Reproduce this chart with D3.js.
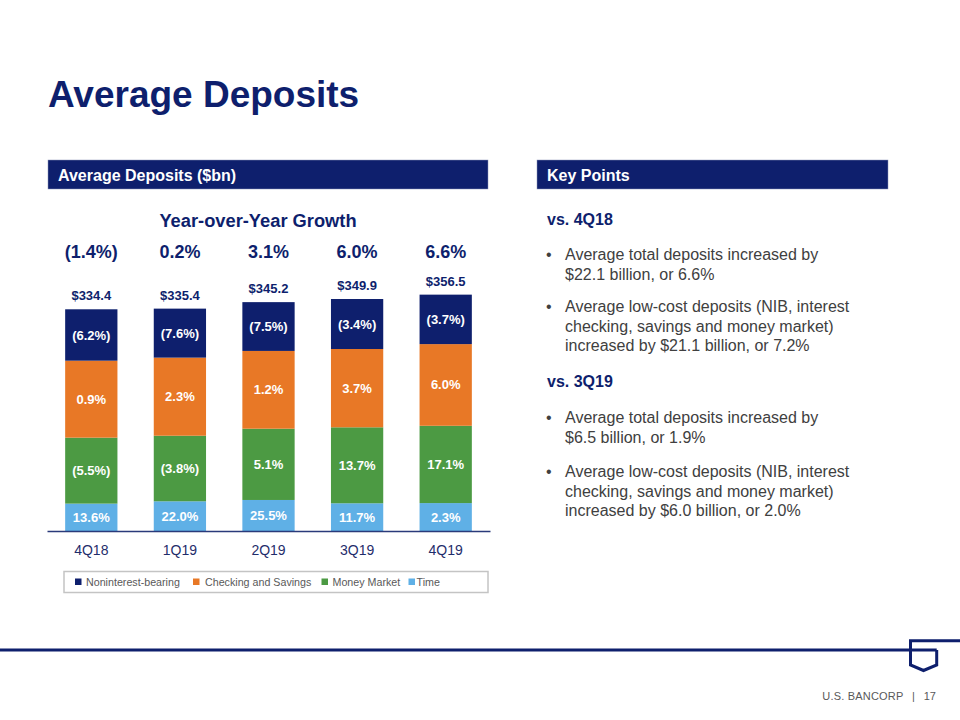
<!DOCTYPE html>
<html>
<head>
<meta charset="utf-8">
<script src="https://cdn.jsdelivr.net/npm/d3@7"></script>
<style>
  body { margin: 0; background: #fff; }
  svg { display: block; font-family: "Liberation Sans", Arial, sans-serif; }
</style>
</head>
<body>
<svg id="slide" width="960" height="720"></svg>
<script>
// datos (miles de millones)
const quarters = ["4Q18", "1Q19", "2Q19", "3Q19", "4Q19"];
const nonInterest = [77.5, 73.9, 73.6, 75.4, 74.6];
const checkingSavings = [116.1, 117.8, 117.3, 118.1, 123.2];
const moneyMarket = [99.5, 98.9, 107.5, 114.6, 116.6];
const timeDeposits = [41.3, 44.8, 46.8, 41.8, 42.1];
const totalLabels = ["$334.4", "$335.4", "$345.2", "$349.9", "$356.5"];
const yoyGrowth = ["(1.4%)", "0.2%", "3.1%", "6.0%", "6.6%"];
const nonInterestGrowth = ["(6.2%)", "(7.6%)", "(7.5%)", "(3.4%)", "(3.7%)"];
const checkingGrowth = ["0.9%", "2.3%", "1.2%", "3.7%", "6.0%"];
const moneyMarketGrowth = ["(5.5%)", "(3.8%)", "5.1%", "13.7%", "17.1%"];
const timeGrowth = ["13.6%", "22.0%", "25.5%", "11.7%", "2.3%"];
const seriesNames = ["Noninterest-bearing", "Checking and Savings", "Money Market", "Time"];

const navy = "#0e1f6d";
const colors = { time: "#5fb0e6", mm: "#4c9a43", cs: "#e87826", nib: "#0e1f6d" };

const svg = d3.select("#slide");

// titulo
svg.append("text").attr("x", 48).attr("y", 107)
  .attr("font-size", 37).attr("font-weight", "bold").attr("fill", navy)
  .text("Average Deposits");

// barras de encabezado
function header(x, w, label) {
  svg.append("rect").attr("x", x).attr("y", 160).attr("width", w).attr("height", 29)
    .attr("fill", navy).attr("stroke", "#8a93b8").attr("stroke-width", 0.5);
  svg.append("text").attr("x", x + 10).attr("y", 181)
    .attr("font-size", 16).attr("font-weight", "bold").attr("fill", "#fff")
    .text(label);
}
header(48, 440, "Average Deposits ($bn)");
header(537, 351, "Key Points");

// grafico apilado
const rows = quarters.map((q, i) => ({
  q: q,
  time: timeDeposits[i],
  mm: moneyMarket[i],
  cs: checkingSavings[i],
  nib: nonInterest[i]
}));
const keys = ["time", "mm", "cs", "nib"];
const labelsByKey = { time: timeGrowth, mm: moneyMarketGrowth, cs: checkingGrowth, nib: nonInterestGrowth };
const stacked = d3.stack().keys(keys)(rows);

const x = d3.scaleBand().domain(quarters).range([47, 490])
  .paddingInner(0.41).paddingOuter(0.205);
const y = d3.scaleLinear().domain([0, 400]).range([531, 531 - 265.2]);

const layers = svg.selectAll("g.layer")
  .data(stacked)
  .enter().append("g")
  .attr("class", "layer")
  .attr("fill", d => colors[d.key]);

layers.selectAll("rect")
  .data(d => d)
  .enter().append("rect")
  .attr("x", d => x(d.data.q))
  .attr("y", d => y(d[1]))
  .attr("width", x.bandwidth())
  .attr("height", d => y(d[0]) - y(d[1]));

layers.each(function (layer) {
  d3.select(this).selectAll("text")
    .data(layer)
    .enter().append("text")
    .attr("x", d => x(d.data.q) + x.bandwidth() / 2)
    .attr("y", d => (y(d[0]) + y(d[1])) / 2)
    .attr("dy", "0.35em")
    .attr("text-anchor", "middle")
    .attr("font-size", 13).attr("font-weight", "bold").attr("fill", "#fff")
    .text((d, i) => labelsByKey[layer.key][i]);
});

const topLayer = stacked[stacked.length - 1];
svg.selectAll("text.total")
  .data(topLayer)
  .enter().append("text")
  .attr("class", "total")
  .attr("x", d => x(d.data.q) + x.bandwidth() / 2)
  .attr("y", d => y(d[1]) - 9)
  .attr("text-anchor", "middle")
  .attr("font-size", 13).attr("font-weight", "bold").attr("fill", navy)
  .text((d, i) => totalLabels[i]);

// crecimiento interanual
svg.append("text").attr("x", 258).attr("y", 227)
  .attr("text-anchor", "middle")
  .attr("font-size", 18.3).attr("font-weight", "bold").attr("fill", navy)
  .text("Year-over-Year Growth");

svg.selectAll("text.yoy")
  .data(quarters)
  .enter().append("text")
  .attr("class", "yoy")
  .attr("x", d => x(d) + x.bandwidth() / 2)
  .attr("y", 258)
  .attr("text-anchor", "middle")
  .attr("font-size", 18).attr("font-weight", "bold").attr("fill", navy)
  .text((d, i) => yoyGrowth[i]);

// eje x
const axis = svg.append("g")
  .attr("transform", "translate(0,531)")
  .call(d3.axisBottom(x).tickSize(0).tickPadding(14).tickSizeOuter(0));
axis.select(".domain").attr("stroke", "#2a3a7a").attr("stroke-width", 1.5);
axis.selectAll("text")
  .attr("font-size", 14).attr("fill", "#1f2d6b")
  .attr("font-family", "'Liberation Sans', Arial, sans-serif");

// leyenda
svg.append("rect").attr("x", 64).attr("y", 571.5).attr("width", 424).attr("height", 21)
  .attr("fill", "none").attr("stroke", "#c4c4c4").attr("stroke-width", 1.5);
const legendX = [75, 193, 321.5, 408.5];
const legendColors = [colors.nib, colors.cs, colors.mm, colors.time];
const legendTextGap = [11, 12, 11, 8];
const legend = svg.selectAll("g.legend")
  .data(seriesNames)
  .enter().append("g")
  .attr("class", "legend")
  .attr("transform", (d, i) => `translate(${legendX[i]},0)`);
legend.append("rect").attr("x", 0).attr("y", 578.5).attr("width", 6.5).attr("height", 6.5)
  .attr("fill", (d, i) => legendColors[i]);
legend.append("text").attr("x", (d, i) => legendTextGap[i]).attr("y", 585.5)
  .attr("font-size", 10.7).attr("fill", "#595959")
  .text(d => d);

// puntos clave
const kp = svg.append("g").attr("font-size", 16);
function sub(yPos, label) {
  kp.append("text").attr("x", 547).attr("y", yPos)
    .attr("font-weight", "bold").attr("fill", navy).text(label);
}
function bullet(yPos, lines) {
  kp.append("text").attr("x", 546).attr("y", yPos).attr("fill", "#404040").text("•");
  lines.forEach((l, i) => {
    kp.append("text").attr("x", 565).attr("y", yPos + i * 19.7)
      .attr("fill", "#404040").text(l);
  });
}
sub(225, "vs. 4Q18");
bullet(260, ["Average total deposits increased by", "$22.1 billion, or 6.6%"]);
bullet(312, ["Average low-cost deposits (NIB, interest", "checking, savings and money market)", "increased by $21.1 billion, or 7.2%"]);
sub(387, "vs. 3Q19");
bullet(423, ["Average total deposits increased by", "$6.5 billion, or 1.9%"]);
bullet(477, ["Average low-cost deposits (NIB, interest", "checking, savings and money market)", "increased by $6.0 billion, or 2.0%"]);

// pie de pagina y logo
svg.append("line").attr("x1", 0).attr("x2", 936.7).attr("y1", 650).attr("y2", 650)
  .attr("stroke", navy).attr("stroke-width", 3);
svg.append("path")
  .attr("d", "M960,640.7 H910.5 V665 L923.5,670.5 L936.7,665 V650")
  .attr("fill", "none").attr("stroke", navy).attr("stroke-width", 3)
  .attr("stroke-linejoin", "miter");
const foot = svg.append("g").attr("font-size", 11).attr("fill", "#595959");
foot.append("text").attr("x", 903.5).attr("y", 699.5).attr("text-anchor", "end")
  .attr("letter-spacing", 0.2).text("U.S. BANCORP");
foot.append("text").attr("x", 913.5).attr("y", 699.5).attr("text-anchor", "middle").text("|");
foot.append("text").attr("x", 936).attr("y", 699.5).attr("text-anchor", "end").text("17");
</script>
</body>
</html>
